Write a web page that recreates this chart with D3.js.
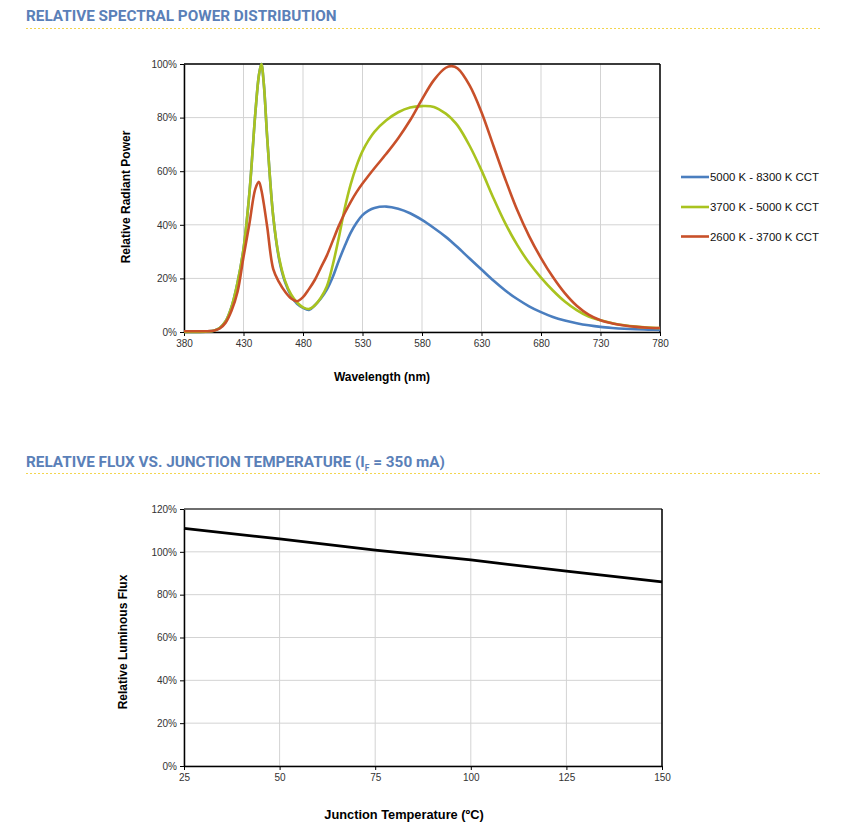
<!DOCTYPE html>
<html><head><meta charset="utf-8">
<script src="https://cdn.jsdelivr.net/npm/d3@7"></script>
<style>body{margin:0;background:#fff;}svg{display:block;}</style>
</head><body>
<svg id="c" width="863" height="825"></svg>
<script>
// ---------- Data ----------
const wavelengths = [380,390,400,405,410,415,420,425,430,435,440,443,445,447,450,455,460,465,470,475,480,485,490,495,500,505,510,515,520,525,530,535,540,550,560,570,580,590,600,605,610,620,630,640,650,660,670,680,690,700,710,720,730,740,750,760,770,780];
const cool = [0,0,0.2,0.5,1.5,4,9.5,18.5,31,52,82,96,100,93,72,43,27,18.5,13.5,10.5,9,8.2,10,12.5,15.8,20.5,26.5,32,37,40.8,43.6,45.3,46.3,46.8,46,44.3,41.8,38.8,35.5,33.6,31.6,27.4,23.3,19.2,15.5,12.3,9.6,7.4,5.6,4.3,3.3,2.5,1.9,1.5,1.2,1,0.9,0.8];
const neutral = [0,0,0.2,0.5,1.5,4,9.5,18.5,31,52,82,96,100,93,72,43,27.5,19,14,11,9.2,8.6,10,12.8,17,25,35,46,55,62,67.5,71.5,74.7,79,82,83.8,84.3,84,81.5,79.5,77,69.5,60.3,50,40.5,32.5,25.8,20.3,15.5,11.4,8.2,5.8,4.4,3.3,2.5,2,1.7,1.5];
const warm = [0.3,0.3,0.3,0.5,1.3,3.5,8,15,28,40.5,53.5,56,53,48,39,23.5,18.5,15,12.5,11.5,13,16,19.5,24,28.5,34,39.5,44.3,48.5,52.2,55.4,58.3,61.1,66.5,72.3,79,86.8,94,98.6,99.2,98.3,92,82,69.5,57,45.5,35.8,27.6,20.5,14.5,9.8,6.5,4.4,3.2,2.4,1.9,1.6,1.5];
const seriesNames = ["5000 K - 8300 K CCT","3700 K - 5000 K CCT","2600 K - 3700 K CCT"];
const seriesColors = ["#4a7ebf","#a9c31f","#c8502a"];
const xTicks1 = [380,430,480,530,580,630,680,730,780];
const yTicks1 = [0,20,40,60,80,100];

const temps = [25,50,75,100,125,150];
const flux = [111,106,100.8,96.2,91,86];
const xTicks2 = [25,50,75,100,125,150];
const yTicks2 = [0,20,40,60,80,100,120];

// ---------- Drawing ----------
const svg = d3.select("#c");
const titleColor = "#5a80b8";
const font = "'Liberation Sans', Arial, sans-serif";

function header(y, lineY, build){
  const t = svg.append("text").attr("x",26).attr("y",y)
    .attr("font-family","Roboto, 'Liberation Sans', sans-serif")
    .attr("font-weight","bold").attr("font-size",15.3).attr("fill",titleColor);
  build(t);
  svg.append("line").attr("x1",26).attr("x2",822).attr("y1",lineY).attr("y2",lineY)
    .attr("stroke","#f3d54e").attr("stroke-width",1).attr("stroke-dasharray","2,2");
}
header(21,28.5,t=>t.text("RELATIVE SPECTRAL POWER DISTRIBUTION"));
header(467,473.5,t=>{
  t.append("tspan").text("RELATIVE FLUX VS. JUNCTION TEMPERATURE (I");
  t.append("tspan").attr("font-size",8.5).attr("dy",4).text("F");
  t.append("tspan").attr("dy",-4).text(" = 350 mA)");
});

function frame(g, x, y, xt, yt, fmtY, topColor){
  const [x0,x1] = x.range(), [y0,y1] = y.range();
  g.append("g").selectAll("line").data(xt).join("line")
    .attr("x1",d=>x(d)).attr("x2",d=>x(d)).attr("y1",y0).attr("y2",y1)
    .attr("stroke","#d3d3d3").attr("stroke-width",1);
  g.append("g").selectAll("line").data(yt).join("line")
    .attr("x1",x0).attr("x2",x1).attr("y1",d=>y(d)).attr("y2",d=>y(d))
    .attr("stroke","#d3d3d3").attr("stroke-width",1);
  const ax = g.append("g").attr("transform",`translate(0,${y0})`)
    .call(d3.axisBottom(x).tickValues(xt).tickSize(4).tickSizeOuter(0).tickPadding(4));
  const ay = g.append("g").attr("transform",`translate(${x0},0)`)
    .call(d3.axisLeft(y).tickValues(yt).tickSize(4).tickSizeOuter(0).tickPadding(3).tickFormat(fmtY));
  [ax,ay].forEach(a=>{
    a.selectAll("text").attr("font-family",font).attr("font-size",10).attr("fill","#333");
    a.select(".domain").attr("stroke","#000").attr("stroke-width",1.5);
    a.selectAll(".tick line").attr("stroke","#000");
  });
  g.append("line").attr("x1",x0).attr("x2",x1).attr("y1",y1).attr("y2",y1).attr("stroke",topColor).attr("stroke-width",1.5);
  g.append("line").attr("x1",x1).attr("x2",x1).attr("y1",y1).attr("y2",y0).attr("stroke","#000").attr("stroke-width",1.5);
}

// Chart 1
const x1 = d3.scaleLinear().domain([380,780]).range([184,660]);
const y1 = d3.scaleLinear().domain([0,100]).range([332,64]);
const g1 = svg.append("g");
frame(g1, x1, y1, xTicks1, yTicks1, d=>d+"%", "#000");
const line1 = d3.line().x((d,i)=>x1(wavelengths[i])).y(d=>y1(Math.max(0,d))).curve(d3.curveCatmullRom.alpha(0.5));
[cool, neutral, warm].forEach((s,i)=>{
  g1.append("path").datum(s).attr("d",line1).attr("fill","none")
    .attr("stroke",seriesColors[i]).attr("stroke-width",2.6).attr("stroke-linejoin","round");
});
g1.append("text").attr("x",382).attr("y",381).attr("text-anchor","middle")
  .attr("font-family",font).attr("font-weight","bold").attr("font-size",12).text("Wavelength (nm)");
g1.append("text").attr("transform","translate(130,197) rotate(-90)").attr("text-anchor","middle")
  .attr("font-family",font).attr("font-weight","bold").attr("font-size",12).text("Relative Radiant Power");
// legend
const lg = svg.append("g");
seriesNames.forEach((n,i)=>{
  const yy = [177,207,236.5][i];
  lg.append("line").attr("x1",681).attr("x2",709).attr("y1",yy).attr("y2",yy)
    .attr("stroke",seriesColors[i]).attr("stroke-width",2.6);
  lg.append("text").attr("x",710).attr("y",yy+4).attr("font-family",font).attr("font-size",11.4)
    .attr("fill","#111").text(n);
});

// Chart 2
const x2 = d3.scaleLinear().domain([25,150]).range([184,662]);
const y2 = d3.scaleLinear().domain([0,120]).range([766,509]);
const g2 = svg.append("g");
frame(g2, x2, y2, xTicks2, yTicks2, d=>d+"%", "#444");
g2.append("path").datum(flux).attr("fill","none").attr("stroke","#000").attr("stroke-width",2.8)
  .attr("d", d3.line().x((d,i)=>x2(temps[i])).y(d=>y2(d)));
g2.append("text").attr("x",404).attr("y",819).attr("text-anchor","middle")
  .attr("font-family",font).attr("font-weight","bold").attr("font-size",12.8).text("Junction Temperature (ºC)");
g2.append("text").attr("transform","translate(127,642) rotate(-90)").attr("text-anchor","middle")
  .attr("font-family",font).attr("font-weight","bold").attr("font-size",12).text("Relative Luminous Flux");
</script>
</body></html>
